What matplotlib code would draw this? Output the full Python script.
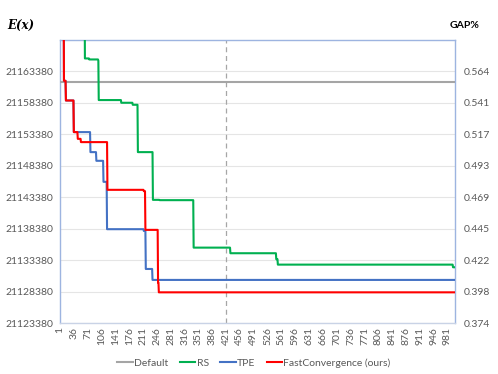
import numpy as np
import matplotlib
matplotlib.use("Agg")
import matplotlib.pyplot as plt

# ---- data (best-so-far objective) ----
n_iter = 1000
iterations = np.arange(1, n_iter + 1)

default_value = 21161700

# (first iteration of each level, value at that level)
rs_start = [1, 64, 75, 98, 99, 156, 185, 198, 236, 253, 339, 432, 548, 552, 995]
rs_value = [21180000, 21165450, 21165290, 21165090, 21158840, 21158410, 21158090,
            21150570, 21142990, 21142940, 21135400, 21134510, 21133560, 21132700, 21132280]

tpe_start = [1, 11, 16, 36, 78, 93, 111, 120, 213, 218, 235]
tpe_value = [21180000, 21161900, 21158770, 21153750, 21150570, 21149190, 21145850,
             21138330, 21138050, 21132010, 21130270]

fc_start = [1, 11, 16, 36, 46, 54, 121, 213, 217, 249, 251]
fc_value = [21180000, 21161900, 21158770, 21153750, 21152680, 21152160, 21144580,
            21144370, 21138220, 21129840, 21128300]

y_ticks = [21123380, 21128380, 21133380, 21138380, 21143380, 21148380,
           21153380, 21158380, 21163380]
y_top = 21168380
gap_labels = ['0.374', '0.398', '0.422', '0.445', '0.469', '0.493', '0.517', '0.541', '0.564']
x_tick_vals = list(range(1, 1001, 35))
marker_iter = 421


def expand(starts, values):
    starts = list(starts) + [n_iter + 1]
    counts = np.diff(starts)
    return np.repeat(values, counts)


rs = expand(rs_start, rs_value)
tpe = expand(tpe_start, tpe_value)
fc = expand(fc_start, fc_value)
default = np.full(n_iter, default_value)

# ---- figure ----
plt.rcParams['font.family'] = ['Lato', 'DejaVu Sans']
fig = plt.figure(figsize=(4.98, 3.74), dpi=100)
ax = fig.add_axes([60 / 498, 1 - 323.3 / 374, 395 / 498, 283.3 / 374])

c_default = '#A5A5A5'
c_rs = '#00B050'
c_tpe = '#4472C4'
c_fc = '#FF0000'

ax.plot(iterations, default, color=c_default, lw=1.5, label='Default', zorder=3)
ax.plot(iterations, rs, color=c_rs, lw=1.5, label='RS', zorder=4)
ax.plot(iterations, tpe, color=c_tpe, lw=1.5, label='TPE', zorder=5)
ax.plot(iterations, fc, color=c_fc, lw=1.5, label='FastConvergence (ours)', zorder=6)
ax.axvline(marker_iter, color='#A6A6A6', lw=0.9, ls=(0, (4, 3)), zorder=2)

ax.set_xlim(1, n_iter)
ax.set_ylim(y_ticks[0], y_top)
ax.set_yticks(y_ticks)
ax.set_yticklabels([str(v) for v in y_ticks])
ax.set_xticks(x_tick_vals)
ax.set_xticklabels([str(v) for v in x_tick_vals], rotation=90)
ax.grid(axis='y', color='#E5E5E5', lw=0.8, zorder=0)
ax.tick_params(axis='both', length=0, labelsize=7.5, labelcolor='#595959')
ax.tick_params(axis='x', pad=3)
ax.tick_params(axis='y', pad=5)

spine_c = '#9DB4E0'
for s in ['left', 'right', 'top']:
    ax.spines[s].set_color(spine_c)
    ax.spines[s].set_linewidth(1.0)
ax.spines['bottom'].set_color('#C9D3E6')
ax.spines['bottom'].set_linewidth(1.0)

ax2 = ax.twinx()
ax2.set_ylim(ax.get_ylim())
ax2.set_yticks(y_ticks)
ax2.set_yticklabels(gap_labels)
ax2.tick_params(axis='y', length=0, labelsize=7.5, labelcolor='#595959', pad=6)
for s in ax2.spines.values():
    s.set_visible(False)

fig.text(7 / 498, 1 - 25 / 374, 'E(x)', family='DejaVu Serif', style='italic',
         weight='bold', fontsize=8.5, va='center', ha='left', color='#000000')
fig.text(465 / 498, 1 - 25 / 374, 'GAP%', weight='bold', fontsize=7.5,
         va='center', ha='center', color='#000000')

handles, labels = ax.get_legend_handles_labels()
fig.legend(handles, labels, loc='center', bbox_to_anchor=(254 / 498, 1 - 363 / 374),
           ncol=4, frameon=False, fontsize=7.5, handlelength=1.5, handletextpad=0.1,
           columnspacing=1.1, labelcolor='#595959')

fig.savefig('out.png', dpi=100)
